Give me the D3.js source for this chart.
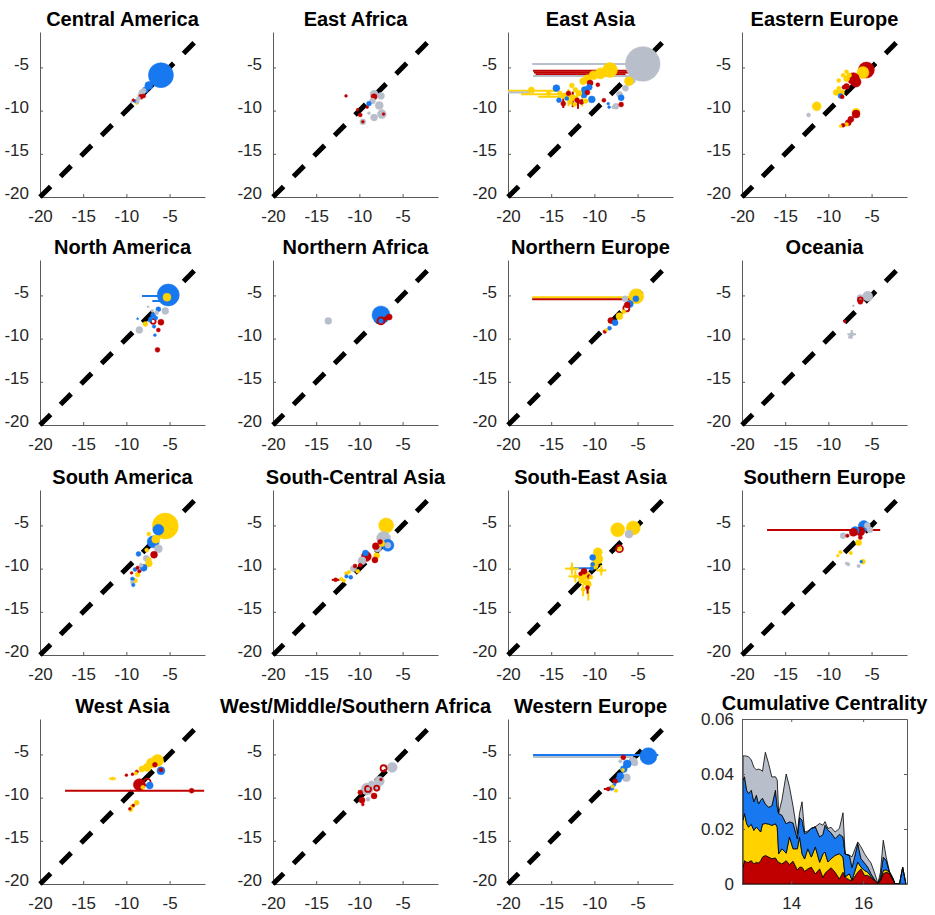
<!DOCTYPE html>
<html>
<head>
<meta charset="utf-8">
<script src="https://cdn.jsdelivr.net/npm/d3@7"></script>
<style>
  body { margin: 0; background: #fff; }
  text { font-family: "Liberation Sans", Arial, sans-serif; }
</style>
</head>
<body>
<div id="chart"></div>
<script>
// panel names, in the order they are laid out (row by row)
const regions = ["Central America", "East Africa", "East Asia", "Eastern Europe",
  "North America", "Northern Africa", "Northern Europe", "Oceania",
  "South America", "South-Central Asia", "South-East Asia", "Southern Europe",
  "West Asia", "West/Middle/Southern Africa", "Western Europe"];

const axisTicks = [-20, -15, -10, -5];
const axisDomain = [-20, -0.9];
const diagonal = [-20, -2];

// points: [x, y, size, series, open]  series 0 red, 1 yellow, 2 blue, 3 gray
const centralAmerica = [
  [-6.0, -5.9, 156, 2], [-7.4, -7.1, 16, 2], [-7.8, -7.6, 9, 2], [-8.2, -7.9, 9, 3],
  [-8.0, -7.7, 6, 3], [-8.4, -8.2, 6, 3], [-8.3, -8.4, 6, 0], [-8.0, -8.3, 4, 0],
  [-8.6, -8.6, 4, 3], [-9.2, -8.8, 2, 0], [-8.8, -9.1, 3, 1], [-9.0, -8.9, 3, 2],
  [-8.7, -9.0, 3, 3], [-9.4, -9.0, 1, 3]
];
const eastAfrica = [
  [-11.55, -8.3, 2, 0], [-8.3, -8.1, 16, 3], [-7.5, -8.3, 12, 3], [-8.3, -8.4, 9, 0],
  [-8.5, -8.9, 9, 3], [-8.9, -9.2, 6, 2], [-7.7, -9.4, 16, 3], [-9.1, -9.6, 2, 0],
  [-8.9, -10.3, 2, 3], [-10.2, -9.9, 2, 0], [-9.9, -10.5, 4, 0], [-7.4, -10.4, 20, 3],
  [-7.2, -10.4, 2, 0], [-8.3, -10.8, 12, 3], [-9.6, -11.3, 9, 3], [-9.6, -11.3, 2, 0]
];
const eastAsia = [
  [-4.4, -4.6, 300, 3], [-8.2, -5.3, 56, 1], [-6.0, -6.6, 20, 1], [-5.8, -6.4, 25, 3],
  [-9.3, -5.7, 30, 1], [-10.1, -5.9, 20, 1], [-10.8, -6.3, 16, 1], [-11.3, -6.6, 12, 1],
  [-10.5, -6.8, 9, 0], [-6.4, -7.4, 9, 3], [-7.1, -8.1, 9, 3], [-6.9, -8.5, 9, 2],
  [-8.9, -8.8, 4, 0], [-6.9, -9.3, 6, 0], [-7.5, -9.5, 9, 3], [-8.3, -9.6, 2, 2],
  [-8.4, -9.2, 2, 2], [-7.8, -9.6, 3, 3],
  [-14.4, -7.4, 12, 2], [-11.1, -7.6, 12, 2], [-10.6, -7.3, 9, 2], [-10.3, -8.7, 12, 2],
  [-11.2, -8.2, 9, 2], [-14.1, -8.8, 6, 2], [-13.5, -8.3, 9, 1], [-13.0, -8.0, 6, 0],
  [-12.5, -8.5, 9, 1], [-12.0, -8.8, 6, 0], [-12.8, -9.0, 6, 1], [-13.6, -9.2, 6, 0],
  [-12.2, -7.6, 6, 1], [-11.8, -8.0, 9, 1], [-11.5, -9.0, 6, 0], [-13.2, -8.6, 4, 2],
  [-12.3, -9.3, 4, 1], [-11.0, -8.9, 6, 1], [-10.8, -7.9, 6, 0], [-14.0, -8.0, 6, 1],
  [-15.3, -8.0, 6, 1], [-17.3, -7.6, 9, 1], [-12.6, -7.1, 6, 1], [-9.6, -7.0, 4, 0]
];
const easternEurope = [
  [-5.6, -5.3, 64, 0], [-6.0, -5.6, 36, 1], [-7.1, -6.3, 36, 0], [-6.8, -6.7, 25, 0],
  [-7.9, -6.3, 9, 1], [-8.3, -5.9, 4, 1], [-7.9, -5.5, 4, 1], [-8.8, -6.5, 4, 1],
  [-7.6, -5.9, 6, 1], [-7.9, -7.2, 9, 0], [-8.2, -7.3, 4, 0], [-8.8, -7.4, 4, 1],
  [-8.5, -7.9, 9, 1], [-9.1, -7.9, 9, 1], [-8.6, -8.3, 6, 2], [-8.4, -8.4, 4, 0],
  [-11.35, -9.5, 20, 1], [-12.3, -10.5, 4, 3], [-6.8, -10.2, 16, 1], [-6.8, -10.4, 16, 0],
  [-7.4, -11.0, 9, 0], [-7.7, -11.4, 9, 0], [-7.9, -11.6, 4, 1], [-8.3, -11.7, 4, 0],
  [-8.6, -11.8, 2, 1]
];
const northAmerica = [
  [-5.15, -4.95, 121, 2], [-5.3, -5.2, 16, 1], [-5.5, -6.8, 12, 3], [-6.3, -6.6, 6, 2],
  [-6.9, -7.3, 6, 2], [-6.6, -7.6, 4, 2], [-7.2, -7.7, 4, 2], [-6.5, -7.0, 4, 3],
  [-7.0, -6.8, 2, 3], [-6.9, -8.0, 6, 0, 1], [-6.0, -8.1, 9, 0], [-7.8, -8.3, 6, 1],
  [-8.5, -9.0, 12, 3], [-7.3, -7.9, 3, 2], [-8.7, -7.7, 1, 2], [-6.3, -9.0, 4, 0],
  [-6.7, -9.6, 2, 2], [-6.4, -11.3, 6, 0], [-7.5, -6.3, 1, 3], [-6.8, -8.6, 3, 2]
];
const northernAfrica = [
  [-13.6, -7.95, 12, 3], [-7.5, -7.26, 81, 2], [-7.5, -7.95, 12, 0, 1], [-6.55, -7.5, 9, 0],
  [-7.0, -7.7, 4, 0]
];
const northernEurope = [
  [-5.15, -5.1, 56, 1], [-5.2, -5.4, 9, 2], [-6.45, -5.4, 9, 3], [-6.2, -6.1, 9, 0],
  [-6.3, -6.5, 9, 0, 1], [-5.9, -6.0, 12, 2], [-7.1, -7.4, 12, 1], [-8.1, -7.9, 9, 0],
  [-7.6, -8.15, 9, 2], [-8.25, -8.8, 4, 2], [-8.8, -9.2, 3, 0], [-8.6, -9.0, 2, 1],
  [-6.6, -6.9, 4, 1]
];
const oceania = [
  [-5.45, -5.1, 25, 3], [-6.3, -5.3, 12, 3], [-6.3, -5.5, 6, 0, 1], [-6.3, -5.75, 6, 0],
  [-7.1, -6.2, 1, 3], [-8.1, -8.0, 2, 0], [-7.3, -9.5, 4, 3], [-7.5, -9.8, 3, 3]
];
const southAmerica = [
  [-5.5, -5.07, 169, 1], [-6.3, -5.5, 30, 2], [-7.4, -6.0, 4, 1], [-6.9, -6.9, 36, 2],
  [-6.6, -6.6, 16, 1], [-6.3, -7.7, 16, 3], [-7.65, -7.85, 4, 1], [-8.6, -8.3, 6, 2],
  [-6.8, -8.4, 12, 0], [-7.7, -8.8, 9, 3], [-7.4, -9.4, 12, 1], [-7.4, -9.0, 6, 1],
  [-8.0, -9.9, 12, 2], [-8.3, -9.6, 4, 3], [-8.7, -9.9, 3, 0], [-9.0, -10.1, 4, 2],
  [-8.7, -10.7, 6, 1], [-9.0, -11.4, 6, 1], [-9.3, -11.2, 4, 2], [-9.3, -11.6, 4, 3],
  [-9.2, -11.9, 3, 2], [-8.5, -10.3, 3, 0], [-9.4, -10.5, 2, 0]
];
const southCentralAsia = [
  [-6.9, -5.0, 56, 1], [-7.2, -6.5, 49, 3], [-6.7, -7.3, 36, 2], [-6.7, -7.3, 9, 3],
  [-7.4, -7.1, 9, 1], [-7.6, -6.9, 6, 0], [-7.9, -7.6, 16, 3], [-8.1, -7.4, 12, 0],
  [-8.0, -8.5, 9, 1], [-8.2, -9.0, 9, 0], [-9.2, -8.6, 25, 0], [-9.3, -8.2, 9, 2],
  [-9.7, -9.1, 16, 3], [-10.5, -9.7, 4, 0], [-10.7, -10.0, 9, 3], [-11.5, -10.6, 4, 1],
  [-11.0, -11.0, 4, 2], [-11.2, -10.4, 3, 1], [-12.75, -11.3, 4, 0], [-12.1, -11.2, 3, 1],
  [-11.8, -11.4, 3, 1], [-11.5, -10.9, 3, 2], [-10.2, -10.3, 4, 1], [-9.9, -9.6, 4, 0]
];
const southEastAsia = [
  [-5.5, -5.3, 49, 1], [-7.3, -5.5, 49, 1], [-6.0, -6.0, 16, 3], [-7.1, -7.7, 12, 0, 1],
  [-7.1, -7.7, 4, 1], [-9.6, -8.1, 20, 1], [-9.6, -8.9, 25, 1], [-10.0, -9.6, 16, 1],
  [-10.2, -8.7, 9, 2], [-10.2, -9.5, 4, 2], [-10.3, -10.0, 4, 2], [-12.6, -10.0, 4, 1],
  [-9.2, -10.2, 4, 1], [-12.2, -10.9, 4, 1], [-11.2, -10.3, 9, 0], [-11.0, -10.8, 16, 1],
  [-11.5, -11.2, 9, 1], [-10.7, -11.8, 9, 1], [-10.8, -12.2, 4, 0], [-11.6, -10.6, 4, 0],
  [-10.6, -10.9, 4, 0], [-11.0, -11.6, 6, 1], [-11.3, -12.4, 4, 1], [-10.4, -11.0, 4, 1]
];
const southernEurope = [
  [-5.9, -5.07, 30, 2], [-6.9, -5.6, 16, 2], [-7.1, -5.8, 16, 0], [-6.3, -5.7, 20, 0],
  [-5.2, -5.5, 9, 3], [-5.5, -5.0, 9, 3], [-7.8, -6.2, 3, 0], [-8.3, -6.2, 9, 3],
  [-6.3, -6.4, 4, 0], [-6.5, -7.0, 9, 1], [-7.4, -8.2, 3, 1], [-8.6, -8.1, 3, 1],
  [-8.9, -8.5, 2, 1], [-7.7, -9.5, 3, 3], [-7.9, -9.4, 2, 3], [-6.5, -9.7, 3, 3],
  [-6.0, -9.2, 6, 1], [-6.2, -9.2, 2, 2]
];
const westAsia = [
  [-6.4, -5.7, 36, 1], [-7.1, -6.0, 25, 1], [-7.6, -6.5, 16, 1], [-8.2, -6.7, 9, 1],
  [-6.7, -6.2, 6, 0], [-6.0, -6.9, 16, 2], [-6.0, -6.8, 4, 0], [-8.5, -8.5, 36, 0],
  [-7.6, -8.2, 12, 0, 1], [-7.3, -8.6, 12, 2], [-8.1, -8.8, 4, 1], [-2.45, -9.2, 6, 0],
  [-10.0, -7.4, 2, 0], [-9.3, -7.3, 2, 0], [-8.8, -7.0, 3, 0], [-8.9, -7.2, 3, 1],
  [-11.6, -7.8, 3, 1], [-8.8, -10.6, 6, 1], [-9.3, -11.0, 4, 1], [-9.5, -11.4, 4, 1],
  [-9.2, -10.9, 2, 0], [-9.6, -11.3, 2, 0]
];
const westMiddleSouthernAfrica = [
  [-6.2, -6.5, 25, 3], [-7.2, -6.6, 9, 0, 1], [-7.7, -8.1, 25, 3], [-8.0, -8.8, 16, 3],
  [-8.0, -8.9, 6, 0, 1], [-9.1, -9.0, 36, 3], [-9.0, -9.0, 9, 0, 1], [-8.3, -9.8, 9, 0],
  [-9.0, -10.2, 4, 3], [-9.9, -9.4, 6, 0], [-9.7, -10.3, 9, 0], [-9.6, -10.8, 2, 0],
  [-7.5, -7.9, 2, 0], [-8.6, -8.4, 9, 3]
];
const westernEurope = [
  [-3.75, -5.2, 72, 2], [-6.65, -5.35, 6, 0], [-5.5, -5.8, 16, 3], [-7.0, -5.8, 3, 3],
  [-6.2, -6.1, 16, 2], [-6.6, -6.7, 12, 2], [-5.3, -6.0, 9, 3], [-6.7, -6.8, 3, 1],
  [-7.0, -7.5, 12, 2], [-6.3, -7.7, 16, 3], [-7.2, -7.9, 9, 2], [-7.6, -8.1, 6, 0],
  [-7.7, -8.5, 3, 2], [-7.9, -8.7, 3, 1], [-8.0, -8.9, 6, 2], [-8.4, -9.0, 4, 0],
  [-7.5, -9.2, 3, 1]
];

// error bars: [x1, y1, x2, y2, series]
const eastAsiaBars = [
  [-17.2, -4.6, -3.0, -4.6, 3], [-17.1, -5.4, -6.2, -5.4, 0], [-17.0, -5.6, -6.0, -5.6, 0],
  [-16.8, -5.8, -6.4, -5.8, 0], [-17.1, -6.0, -6.2, -6.0, 3], [-20, -7.7, -14.4, -7.7, 1],
  [-20, -7.9, -17.0, -7.9, 3], [-18.5, -8.1, -12.5, -8.1, 1], [-16.5, -8.4, -12.0, -8.4, 1],
  [-13.0, -9.5, -13.0, -7.5, 1], [-12.5, -9.6, -12.5, -7.8, 0], [-12.0, -9.4, -12.0, -8.0, 1],
  [-11.4, -9.5, -11.4, -7.3, 1], [-13.6, -9.7, -13.6, -8.4, 0], [-11.9, -9.8, -11.9, -8.6, 0]
];
const northAmericaBars = [[-8.2, -5.07, -5.2, -5.07, 2], [-7.0, -5.65, -5.3, -5.65, 2]];
const northernEuropeBars = [[-17.2, -5.2, -5.3, -5.2, 1], [-17.2, -5.45, -5.3, -5.45, 0]];
const oceaniaBars = [[-7.8, -9.5, -6.8, -9.5, 3], [-7.3, -10.0, -7.3, -9.0, 3]];
const southCentralAsiaBars = [[-13.2, -11.3, -12.3, -11.3, 0]];
const southEastAsiaBars = [
  [-12.4, -9.96, -10.2, -9.96, 2], [-13.4, -10.0, -11.8, -10.0, 1], [-12.6, -10.7, -12.6, -9.3, 1],
  [-9.8, -10.2, -8.6, -10.2, 1], [-9.2, -10.8, -9.2, -9.6, 1], [-13.0, -10.9, -11.4, -10.9, 1],
  [-12.2, -11.6, -12.2, -10.2, 1], [-10.7, -13.7, -10.7, -11.0, 1], [-10.8, -12.9, -10.8, -11.5, 0],
  [-11.3, -13.2, -11.3, -11.8, 1], [-11.8, -11.6, -10.4, -11.6, 1]
];
const southernEuropeBars = [[-17.1, -5.53, -4.0, -5.53, 0]];
const westAsiaBars = [[-17.1, -9.2, -1.0, -9.2, 0], [-12.0, -7.8, -11.2, -7.8, 1]];
const westernEuropeBars = [
  [-17.1, -5.07, -2.6, -5.07, 2], [-17.1, -5.3, -5.5, -5.3, 3], [-8.9, -9.0, -7.9, -9.0, 0]
];

// cumulative centrality (stacked): x and one value per series
const centX = [12.66, 12.70, 12.76, 12.81, 12.89, 12.96, 13.03, 13.09, 13.15, 13.20, 13.28, 13.37,
  13.46, 13.56, 13.61, 13.65, 13.74, 13.86, 13.95, 14.05, 14.17, 14.23, 14.30, 14.37, 14.46, 14.56,
  14.67, 14.79, 14.88, 14.94, 15.02, 15.11, 15.22, 15.34, 15.44, 15.50, 15.62, 15.69, 15.85, 15.94,
  16.04, 16.13, 16.22, 16.33, 16.41, 16.48, 16.56, 16.64, 16.73, 16.82, 16.89, 17.01, 17.10, 17.19];
const centRed = [.0061, .0085, .0079, .0079, .0085, .0073, .0079, .0076, .0085, .0098, .0104, .0098,
  .0092, .0095, .0085, .0079, .0073, .0085, .0071, .0083, .0051, .0061, .0061, .0046, .0055, .0061,
  .0037, .0055, .0024, .0039, .0049, .0059, .0043, .0018, .0043, .0024, .0015, .0012, .0043, .0055,
  .0031, .0031, .0022, .0012, .0002, .0012, .0037, .0043, .0039, .0018, 0, 0, 0, 0];
const centYellow = [.0171, .0171, .0140, .0128, .0132, .0122, .0128, .0122, .0104, .0120, .0116, .0120,
  .0121, .0124, .0122, .0031, .0055, .0027, .0100, .0045, .0077, .0110, .0049, .0045, .0073, .0037,
  .0098, .0024, .0085, .0077, .0031, .0033, .0061, .0092, .0055, .0002, .0022, .0002, .0037, .0006,
  .0018, .0012, .0005, 0, 0, .0002, .0012, .0009, .0004, 0, 0, 0, 0, 0];
const centBlue = [.0146, .0134, .0122, .0122, .0124, .0104, .0116, .0093, .0116, .0094, .0071, .0061,
  .0071, .0122, .0073, .0146, .0122, .0107, .0055, .0094, .0037, .0071, .0122, .0092, .0061, .0104,
  .0073, .0092, .0071, .0098, .0116, .0094, .0061, .0071, .0073, .0083, .0067, .0046, .0067, .0031,
  .0027, .0018, .0010, .0002, 0, .0010, .0049, .0034, 0, .0004, 0, 0, .0061, 0];
const centGray = [.0088, .0076, .0124, .0134, .0110, .0126, .0092, .0127, .0110, .0098, .0188, .0159,
  .0105, .0049, .0098, .0002, .0055, .0181, .0128, .0061, .0018, .0015, .0067, .0006, .0004, 0,
  0, .0049, .0034, .0013, .0006, .0020, .0024, .0021, .0088, 0, 0, .0039, .0006, .0043,
  .0034, .0031, .0039, .0022, 0, .0018, .0061, .0012, .0004, .0002, 0, 0, 0, 0];
const centTicksX = [14, 16];
const centTicksY = [0, 0.02, 0.04, 0.06];

const seriesColors = ["#c00000", "#ffd200", "#1778ef", "#b8bfca"];

const pointsByRegion = [centralAmerica, eastAfrica, eastAsia, easternEurope, northAmerica,
  northernAfrica, northernEurope, oceania, southAmerica, southCentralAsia, southEastAsia,
  southernEurope, westAsia, westMiddleSouthernAfrica, westernEurope];
const barsByRegion = [[], [], eastAsiaBars, [], northAmericaBars, [], northernEuropeBars,
  oceaniaBars, [], southCentralAsiaBars, southEastAsiaBars, southernEuropeBars, westAsiaBars,
  [], westernEuropeBars];

// layout
const lefts = [40, 273, 508, 742];
const tops = [32, 260, 490, 719];
const size = 165;

const svg = d3.select("#chart").append("svg")
  .attr("width", 935).attr("height", 915);

const x = d3.scaleLinear().domain(axisDomain).range([0, size]);
const y = d3.scaleLinear().domain(axisDomain).range([size, 0]);
const radius = d3.scaleSqrt().domain([0, 100]).range([0, 10]);
const color = d3.scaleOrdinal().domain([0, 1, 2, 3]).range(seriesColors);

function styleAxis(g) {
  g.select(".domain").attr("stroke", "#5a5a5a").attr("stroke-width", 1);
  g.selectAll(".tick line").attr("stroke", "#5a5a5a");
  g.selectAll(".tick text").attr("fill", "#262626").style("font-size", "17px");
}

function addTitle(g, txt, ty) {
  g.append("text")
    .attr("x", size / 2).attr("y", ty)
    .attr("text-anchor", "middle")
    .style("font-size", "20px").style("font-weight", "bold")
    .attr("fill", "#000")
    .text(txt);
}

regions.forEach((name, i) => {
  const col = i % 4, row = Math.floor(i / 4);
  const g = svg.append("g").attr("transform", `translate(${lefts[col]},${tops[row]})`);

  g.append("g").attr("transform", `translate(0,${size})`)
    .call(d3.axisBottom(x).tickValues(axisTicks).tickFormat(d => String(d))
      .tickSize(-3).tickSizeOuter(0).tickPadding(13))
    .call(styleAxis);
  g.append("g")
    .call(d3.axisLeft(y).tickValues(axisTicks).tickFormat(d => String(d))
      .tickSize(-3).tickSizeOuter(0).tickPadding(11))
    .call(styleAxis)
    .selectAll(".tick text").attr("dy", "0.1em");

  addTitle(g, name, -6);

  // dashed 1:1 line
  g.append("line")
    .attr("x1", x(diagonal[0])).attr("y1", y(diagonal[0]))
    .attr("x2", x(diagonal[1])).attr("y2", y(diagonal[1]))
    .attr("stroke", "#000").attr("stroke-width", 5)
    .attr("stroke-dasharray", "15,14");

  g.selectAll(".bar").data(barsByRegion[i]).join("line")
    .attr("class", "bar")
    .attr("x1", d => x(d[0])).attr("y1", d => y(d[1]))
    .attr("x2", d => x(d[2])).attr("y2", d => y(d[3]))
    .attr("stroke", d => color(d[4])).attr("stroke-width", 2);

  const pts = pointsByRegion[i].slice().sort((a, b) => b[2] - a[2]);
  g.selectAll(".pt").data(pts).join("circle")
    .attr("class", "pt")
    .attr("cx", d => x(d[0])).attr("cy", d => y(d[1]))
    .attr("r", d => radius(d[2]))
    .attr("fill", d => d[4] ? "none" : color(d[3]))
    .attr("stroke", d => color(d[3]))
    .attr("stroke-width", d => d[4] ? 1.8 : 0.5);
});

// cumulative centrality panel
(function () {
  const g = svg.append("g").attr("transform", `translate(${lefts[3]},${tops[3]})`);
  const cx = d3.scaleLinear().domain([12.63, 17.22]).range([0, size]);
  const cy = d3.scaleLinear().domain([0, 0.06]).range([size, 0]);

  const rows = centX.map((d, i) => ({ x: d, s1: centRed[i], s2: centYellow[i], s3: centBlue[i], s4: centGray[i] }));
  const keys = ["s1", "s2", "s3", "s4"];
  const layers = d3.stack().keys(keys)(rows);

  const area = d3.area()
    .x(d => cx(d.data.x))
    .y0(d => cy(d[0]))
    .y1(d => cy(d[1]));

  g.selectAll(".layer").data(layers).join("path")
    .attr("class", "layer")
    .attr("d", area)
    .attr("fill", (d, i) => seriesColors[i])
    .attr("stroke", "#000").attr("stroke-width", 0.8)
    .attr("stroke-linejoin", "round");

  g.append("g").attr("transform", `translate(0,${size})`)
    .call(d3.axisBottom(cx).tickValues(centTicksX).tickFormat(d3.format("d"))
      .tickSize(-3).tickSizeOuter(0).tickPadding(13))
    .call(styleAxis);
  g.append("g")
    .call(d3.axisTop(cx).tickValues(centTicksX).tickSize(-3).tickSizeOuter(0).tickFormat(""))
    .call(styleAxis);
  g.append("g")
    .call(d3.axisLeft(cy).tickValues(centTicksY).tickFormat(d => d === 0 ? "0" : d3.format(".2f")(d))
      .tickSize(-3).tickSizeOuter(0).tickPadding(8))
    .call(styleAxis)
    .selectAll(".tick text").attr("dy", "0.35em");
  g.append("g").attr("transform", `translate(${size},0)`)
    .call(d3.axisRight(cy).tickValues(centTicksY).tickSize(-3).tickSizeOuter(0).tickFormat(""))
    .call(styleAxis);

  addTitle(g, "Cumulative Centrality", -9);
})();
</script>
</body>
</html>
